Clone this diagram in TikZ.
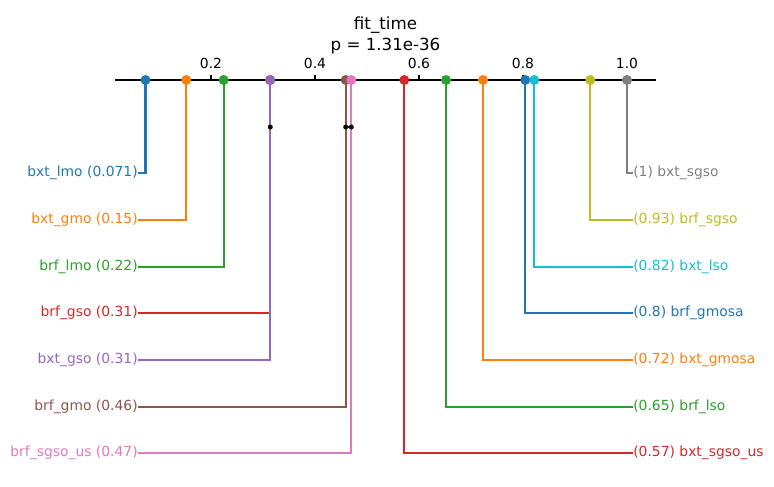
\documentclass[tikz,border=0pt]{standalone}
\usepackage{fontspec}
\setmainfont{DejaVu Sans}
\definecolor{tblue}{HTML}{1F77B4}
\definecolor{torange}{HTML}{FF7F0E}
\definecolor{tgreen}{HTML}{2CA02C}
\definecolor{tred}{HTML}{D62728}
\definecolor{tpurple}{HTML}{9467BD}
\definecolor{tbrown}{HTML}{8C564B}
\definecolor{tpink}{HTML}{E377C2}
\definecolor{tgray}{HTML}{7F7F7F}
\definecolor{tolive}{HTML}{BCBD22}
\definecolor{tcyan}{HTML}{17BECF}
\tikzset{
  lab/.style={inner sep=0pt, font=\fontsize{10}{12}\selectfont},
  leftlab/.style={lab, anchor=east},
  rightlab/.style={lab, anchor=west},
  conn/.style={line width=1.5pt},
  dot/.style={circle, inner sep=0pt, minimum size=7.2pt},
  bdot/.style={circle, fill=black, inner sep=0pt, minimum size=3.6pt},
  ticklab/.style={inner sep=0pt, font=\fontsize{10}{12}\selectfont},
  titlelab/.style={inner sep=0pt, font=\fontsize{12}{14}\selectfont}
}
\begin{document}
\begin{tikzpicture}[x=0.72pt,y=-0.72pt]
\useasboundingbox (0,0) rectangle (774,487);
% title
\node[titlelab] (t1) at (385.5,25) {fit\_time};
\node[titlelab] (t2) at (385.5,46) {p = 1.31e-36};
% axis
\coordinate (axL) at (115,80);
\coordinate (axR) at (656,80);
\draw[line width=0.8pt] (axL) -- (axR);
\foreach \v/\x in {0.2/211,0.4/315,0.6/419,0.8/523,1.0/627}{
  \draw[line width=0.8pt] (\x,80) -- (\x,75.1);
  \node[ticklab] at (\x,63) {\v};
}
% rank positions
\coordinate (p1) at (145.5,80);
\coordinate (p2) at (186.3,80);
\coordinate (p3) at (223.7,80);
\coordinate (p4) at (270.0,80);
\coordinate (p5) at (270.3,80);
\coordinate (p6) at (345.7,80);
\coordinate (p7) at (351.3,80);
\coordinate (q7) at (404.3,80);
\coordinate (q6) at (446.0,80);
\coordinate (q5) at (483.0,80);
\coordinate (q4) at (525.3,80);
\coordinate (q3) at (534.3,80);
\coordinate (q2) at (590.3,80);
\coordinate (q1) at (627.0,80);
% left labels
\node[leftlab, text=tblue]   (l1) at (138,173) {bxt\_lmo (0.071)};
\node[leftlab, text=torange] (l2) at (138,220) {bxt\_gmo (0.15)};
\node[leftlab, text=tgreen]  (l3) at (138,267) {brf\_lmo (0.22)};
\node[leftlab, text=tred]    (l4) at (138,313) {brf\_gso (0.31)};
\node[leftlab, text=tpurple] (l5) at (138,360) {bxt\_gso (0.31)};
\node[leftlab, text=tbrown]  (l6) at (138,407) {brf\_gmo (0.46)};
\node[leftlab, text=tpink]   (l7) at (138,453) {brf\_sgso\_us (0.47)};
% right labels
\node[rightlab, text=tgray]   (r1) at (633,173) {(1) bxt\_sgso};
\node[rightlab, text=tolive]  (r2) at (633,220) {(0.93) brf\_sgso};
\node[rightlab, text=tcyan]   (r3) at (633,267) {(0.82) bxt\_lso};
\node[rightlab, text=tblue]   (r4) at (633,313) {(0.8) brf\_gmosa};
\node[rightlab, text=torange] (r5) at (633,360) {(0.72) bxt\_gmosa};
\node[rightlab, text=tgreen]  (r6) at (633,407) {(0.65) brf\_lso};
\node[rightlab, text=tred]    (r7) at (633,453) {(0.57) bxt\_sgso\_us};
% connectors
\draw[conn, tblue]   (p1) |- (l1.east);
\draw[conn, torange] (p2) |- (l2.east);
\draw[conn, tgreen]  (p3) |- (l3.east);
\draw[conn, tred]    (p4) |- (l4.east);
\draw[conn, tpurple] (p5) |- (l5.east);
\draw[conn, tbrown]  (p6) |- (l6.east);
\draw[conn, tpink]   (p7) |- (l7.east);
\draw[conn, tred]    (q7) |- (r7.west);
\draw[conn, tgreen]  (q6) |- (r6.west);
\draw[conn, torange] (q5) |- (r5.west);
\draw[conn, tblue]   (q4) |- (r4.west);
\draw[conn, tcyan]   (q3) |- (r3.west);
\draw[conn, tolive]  (q2) |- (r2.west);
\draw[conn, tgray]   (q1) |- (r1.west);
% dots
\node[dot, fill=tblue]   (d1) at (p1) {};
\node[dot, fill=torange] (d2) at (p2) {};
\node[dot, fill=tgreen]  (d3) at (p3) {};
\node[dot, fill=tred]    (d4) at (p4) {};
\node[dot, fill=tpurple] (d5) at (p5) {};
\node[dot, fill=tbrown]  (d6) at (p6) {};
\node[dot, fill=tpink]   (d7) at (p7) {};
\node[dot, fill=tred]    (e7) at (q7) {};
\node[dot, fill=tgreen]  (e6) at (q6) {};
\node[dot, fill=torange] (e5) at (q5) {};
\node[dot, fill=tblue]   (e4) at (q4) {};
\node[dot, fill=tcyan]   (e3) at (q3) {};
\node[dot, fill=tolive]  (e2) at (q2) {};
\node[dot, fill=tgray]   (e1) at (q1) {};
% cliques
\node[bdot] (c1) at (270.3,127) {};
\node[bdot] (c2) at (345.7,127) {};
\node[bdot] (c3) at (351.3,127) {};
\draw[line width=1.5pt] (c2) -- (c3);
\end{tikzpicture}
\end{document}
